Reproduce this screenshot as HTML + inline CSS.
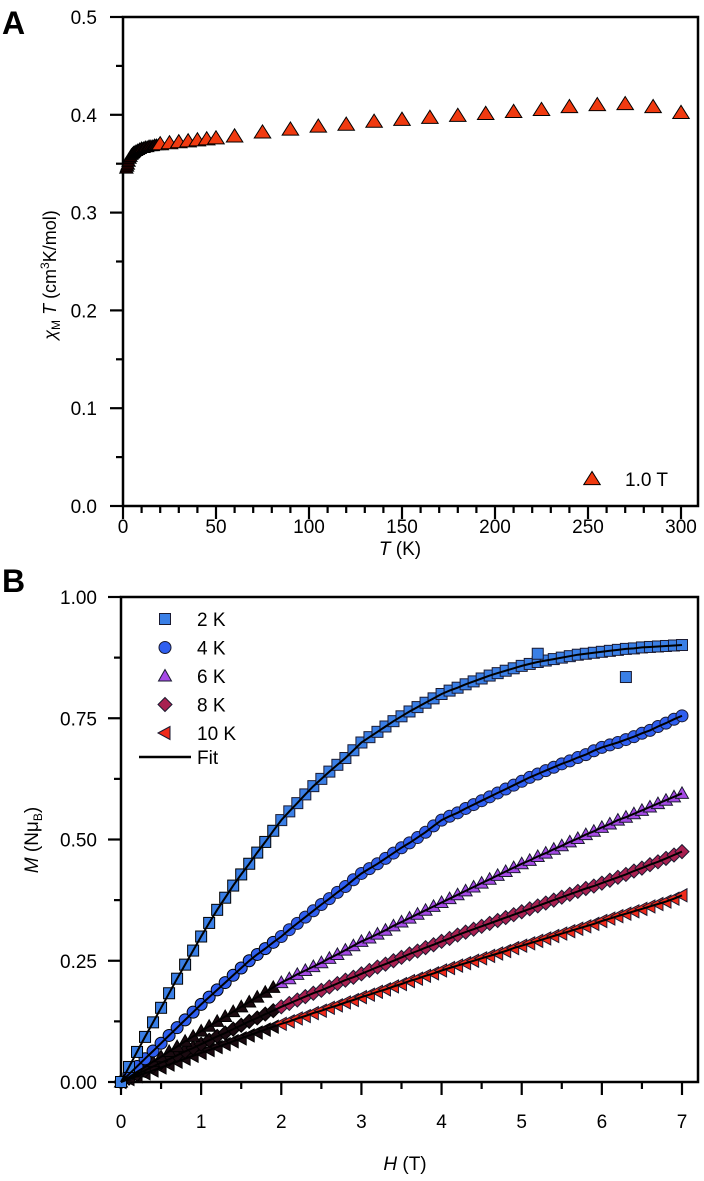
<!DOCTYPE html>
<html><head><meta charset="utf-8"><style>
body{margin:0;background:#fff}
svg{display:block;font-family:"Liberation Sans",Arial,sans-serif}
</style></head><body>
<svg id="fig" width="704" height="1181" viewBox="0 0 704 1181">
<text x="2" y="34" font-size="32" font-weight="bold">A</text>
<text x="2" y="592" font-size="32" font-weight="bold">B</text>
<g id="pa"></g>
<g id="pb"></g>
</svg>
<script>
// Panel A data
const aT = [1.8,2.2,2.6,3,3.5,4,4.5,5,5.5,6,7,8,9,10,11,12,13,14,15,16,17,18,19,20,25,30,35,40,45,50,60,75,90,105,120,135,150,165,180,195,210,225,240,255,270,285,300];
const aChiT = [0.345,0.347,0.349,0.352,0.355,0.357,0.359,0.360,0.361,0.362,0.363,0.364,0.365,0.366,0.366,0.367,0.367,0.368,0.368,0.368,0.369,0.369,0.369,0.370,0.371,0.372,0.373,0.374,0.375,0.376,0.378,0.382,0.385,0.388,0.390,0.393,0.395,0.397,0.399,0.401,0.403,0.405,0.408,0.410,0.411,0.408,0.402];
const aXTicks = [0,50,100,150,200,250,300];
const aYTicks = [0.0,0.1,0.2,0.3,0.4,0.5];
const aYLabels = ["0.0","0.1","0.2","0.3","0.4","0.5"];
// Panel B data
const bH = [0,0.1,0.2,0.3,0.4,0.5,0.6,0.7,0.8,0.9,1.0,1.1,1.2,1.3,1.4,1.5,1.6,1.7,1.8,1.9,2.0,2.1,2.2,2.3,2.4,2.5,2.6,2.7,2.8,2.9,3.0,3.1,3.2,3.3,3.4,3.5,3.6,3.7,3.8,3.9,4.0,4.1,4.2,4.3,4.4,4.5,4.6,4.7,4.8,4.9,5.0,5.1,5.2,5.3,5.4,5.5,5.6,5.7,5.8,5.9,6.0,6.1,6.2,6.3,6.4,6.5,6.6,6.7,6.8,6.9,7.0];
const m2K = [0,.031,.062,.093,.123,.153,.183,.213,.242,.271,.30,.328,.355,.380,.405,.428,.45,.473,.495,.518,.54,.558,.575,.593,.61,.625,.64,.654,.668,.684,.70,.711,.722,.733,.744,.754,.764,.773,.782,.791,.80,.807,.813,.820,.826,.832,.838,.843,.848,.853,.858,.862,.866,.869,.872,.875,.878,.881,.883,.885,.887,.889,.891,.893,.894,.896,.897,.898,.899,.900,.901];
const m4K = [0,.016,.032,.048,.064,.080,.096,.112,.128,.144,.16,.175,.19,.205,.22,.235,.25,.263,.275,.288,.30,.314,.327,.340,.353,.366,.378,.391,.403,.417,.43,.44,.45,.461,.472,.483,.493,.504,.515,.528,.54,.548,.555,.564,.572,.580,.588,.596,.604,.612,.62,.628,.635,.642,.649,.656,.662,.669,.675,.683,.69,.695,.70,.706,.712,.719,.725,.733,.74,.748,.755];
const m6K = [0,.010,.021,.031,.042,.052,.063,.073,.084,.094,.105,.115,.125,.135,.145,.155,.165,.175,.185,.195,.205,.213,.222,.230,.238,.246,.255,.263,.272,.281,.29,.297,.305,.313,.322,.330,.338,.346,.354,.362,.37,.378,.386,.394,.402,.410,.418,.426,.434,.442,.45,.457,.465,.472,.48,.487,.495,.502,.51,.517,.525,.532,.54,.546,.553,.560,.567,.574,.581,.588,.595];
const m8K = [0,.008,.016,.024,.032,.040,.047,.055,.063,.070,.078,.086,.094,.101,.109,.117,.125,.132,.14,.147,.155,.162,.169,.176,.183,.189,.196,.203,.21,.216,.223,.230,.237,.243,.25,.257,.264,.270,.277,.283,.29,.296,.303,.309,.315,.321,.327,.333,.339,.345,.351,.357,.363,.369,.375,.381,.387,.393,.399,.404,.41,.416,.422,.428,.435,.441,.448,.454,.461,.468,.475];
const m10K = [0,.006,.012,.018,.024,.030,.036,.042,.048,.054,.06,.066,.072,.078,.084,.090,.096,.102,.108,.114,.12,.125,.131,.136,.142,.147,.153,.158,.164,.169,.175,.180,.186,.191,.197,.202,.208,.213,.219,.224,.23,.235,.24,.245,.25,.255,.26,.265,.27,.276,.281,.286,.291,.296,.301,.306,.311,.316,.321,.326,.332,.337,.342,.347,.352,.357,.362,.367,.372,.378,.385];
const outH = [5.2,6.3];
const outM = [0.883,0.835];
const bXTicks = [0,1,2,3,4,5,6,7];
const bYTicks = [0,0.25,0.5,0.75,1.0];
const bYLabels = ["0.00","0.25","0.50","0.75","1.00"];

const NS="http://www.w3.org/2000/svg";
function mk(tag,attrs,parent){const e=document.createElementNS(NS,tag);for(const k in attrs)e.setAttribute(k,attrs[k]);parent.appendChild(e);return e;}

const ax=t=>123+t*(681-123)/300, ay=v=>506-v*(506-17)/0.5;
const bx=h=>121+h*(682-121)/7, by=v=>1082-v*(1082-597)/1.0;

function tri(p,x,y,s,fill,name){const e=mk('polygon',{points:`${x},${y-s} ${x-s*1.1},${y+s*0.75} ${x+s*1.1},${y+s*0.75}`,fill:fill,stroke:'#000','stroke-width':1},p);return e;}
function marker(p,type,x,y,fill,name,stroke){let e;const sk=stroke||'#1a1a30';
 if(type==='sq') e=mk('rect',{x:x-5.5,y:y-5.5,width:11,height:11,fill:fill,stroke:sk,'stroke-width':1},p);
 else if(type==='ci') e=mk('circle',{cx:x,cy:y,r:6,fill:fill,stroke:sk,'stroke-width':1},p);
 else if(type==='tr') e=mk('polygon',{points:`${x},${y-6.5} ${x-6.5},${y+5} ${x+6.5},${y+5}`,fill:fill,stroke:sk,'stroke-width':1},p);
 else if(type==='di') e=mk('polygon',{points:`${x},${y-7} ${x+7},${y} ${x},${y+7} ${x-7},${y}`,fill:fill,stroke:sk,'stroke-width':1},p);
 else e=mk('polygon',{points:`${x-7},${y} ${x+5},${y-6.5} ${x+5},${y+6.5}`,fill:fill,stroke:sk,'stroke-width':1},p);
 
 
}

// ---------- Panel A ----------
const pa=document.getElementById('pa');
mk('rect',{x:123,y:17,width:575,height:489,fill:'none',stroke:'#000','stroke-width':2.5},pa);
for(let t=0;t<=300;t+=10){const big=t%50===0;mk('line',{x1:ax(t),x2:ax(t),y1:506,y2:506+(big?13:7),stroke:'#000','stroke-width':2.2},pa);}
aXTicks.forEach(t=>{const e=mk('text',{x:ax(t),y:533,'font-size':19,'text-anchor':'middle'},pa);e.textContent=t;});
for(let i=0;i<=10;i++){const v=i*0.05;const big=i%2===0;mk('line',{x1:123,x2:123-(big?13:7),y1:ay(v),y2:ay(v),stroke:'#000','stroke-width':2.2},pa);}
aYTicks.forEach((v,i)=>{const e=mk('text',{x:97,y:ay(v)+7,'font-size':19,'text-anchor':'end'},pa);e.textContent=aYLabels[i];});
aT.forEach((t,i)=>{const lowT=t<20;tri(pa,ax(t),ay(aChiT[i]),lowT?6:7.5,lowT?'#200':'#f03a10','chi-t-point');});
tri(pa,592,479,7.5,'#f03a10','legend-a-marker');
let t1=mk('text',{x:625,y:486,'font-size':19},pa);t1.textContent='1.0 T';
let xt=mk('text',{x:400,y:555,'font-size':19,'text-anchor':'middle'},pa);xt.innerHTML='<tspan font-style="italic">T</tspan> (K)';
let yt=mk('text',{x:0,y:0,'font-size':18,'text-anchor':'middle',transform:'translate(56,275) rotate(-90)'},pa);
yt.innerHTML='<tspan font-style="italic">χ</tspan><tspan font-size="12" dy="4">M</tspan><tspan dy="-4" font-style="italic"> T</tspan> (cm<tspan font-size="12" dy="-7">3</tspan><tspan dy="7">K/mol)</tspan>';


// ---------- Panel B ----------
const pb=document.getElementById('pb');
mk('rect',{x:121,y:597,width:577,height:485,fill:'none',stroke:'#000','stroke-width':2.5},pb);
for(let h=0;h<=7;h+=0.5){const big=Math.abs(h-Math.round(h))<1e-6;mk('line',{x1:bx(h),x2:bx(h),y1:1082,y2:1082+(big?13:7),stroke:'#000','stroke-width':2.2},pb);}
bXTicks.forEach(h=>{const e=mk('text',{x:bx(h),y:1128,'font-size':19,'text-anchor':'middle'},pb);e.textContent=h;});
for(let i=0;i<=8;i++){const v=i*0.125;const big=i%2===0;mk('line',{x1:121,x2:121-(big?13:7),y1:by(v),y2:by(v),stroke:'#000','stroke-width':2.2},pb);}
bYTicks.forEach((v,i)=>{const e=mk('text',{x:97,y:by(v)+7,'font-size':19,'text-anchor':'end'},pb);e.textContent=bYLabels[i];});
const series=[[m2K,'sq','#3a7fe6','series-2k',false],[m4K,'ci','#2f5ff0','series-4k',false],[m6K,'tr','#a64ae6','series-6k',true],[m8K,'di','#a82050','series-8k',true],[m10K,'lt','#f02a1a','series-10k',true]];
series.slice().reverse().forEach(([arr,type,col,name,dark])=>{
 bH.forEach((h,i)=>{const low=h<2;marker(pb,type,bx(h),by(arr[i]),(low&&dark)?'#1a0a10':col,name+'-point',low?'#000':'#1a1a30');});
});
outH.forEach((h,i)=>marker(pb,'sq',bx(h),by(outM[i]),'#3a7fe6','outlier-2k-point'));
series.forEach(([arr,type,col,name])=>{
 const d=bH.map((h,i)=>(i?'L':'M')+bx(h).toFixed(1)+','+by(arr[i]).toFixed(1)).join(' ');
 const p=mk('path',{d:d,fill:'none',stroke:'#000','stroke-width':2},pb);
 
 
});
const leg=[['sq','#3a7fe6','2 K'],['ci','#2f5ff0','4 K'],['tr','#a64ae6','6 K'],['di','#a82050','8 K'],['lt','#f02a1a','10 K']];
leg.forEach(([type,col,lab],i)=>{const y=619+i*28.5;marker(pb,type,165,y,col,'legend-b-marker');const e=mk('text',{x:197,y:y+7,'font-size':19},pb);e.textContent=lab;});
mk('line',{x1:139,x2:191,y1:757,y2:757,stroke:'#000','stroke-width':2.5},pb);
let ft=mk('text',{x:197,y:764,'font-size':19},pb);ft.textContent='Fit';
let bxt=mk('text',{x:405,y:1170,'font-size':19,'text-anchor':'middle'},pb);bxt.innerHTML='<tspan font-style="italic">H</tspan> (T)';
let byt=mk('text',{x:0,y:0,'font-size':19,'text-anchor':'middle',transform:'translate(38,840) rotate(-90)'},pb);
byt.innerHTML='<tspan font-style="italic">M</tspan> (Nμ<tspan font-size="12" dy="4">B</tspan><tspan dy="-4">)</tspan>';

</script>
</body></html>
